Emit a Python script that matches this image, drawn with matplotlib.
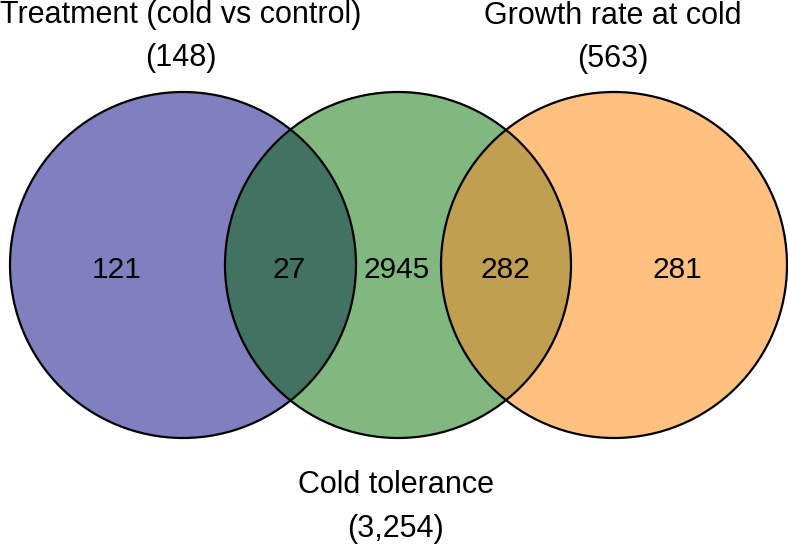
import matplotlib.pyplot as plt
from matplotlib.patches import Circle

# set names and sizes
set_names = ["Treatment (cold vs control)", "Cold tolerance", "Growth rate at cold"]
set_totals = ["(148)", "(3,254)", "(563)"]

# region counts, left to right
region_labels = ["121", "27", "2945", "282", "281"]

plt.rcParams['font.family'] = ['Liberation Sans', 'DejaVu Sans']

fig = plt.figure(figsize=(7.88, 5.45), dpi=100)
ax = fig.add_axes([0, 0, 1, 1])
ax.set_xlim(0, 788)
ax.set_ylim(545, 0)
ax.set_aspect('equal')
ax.axis('off')

# circle layout (pixel coords)
centers = [(183, 265), (398, 265), (614, 265)]
r = 173
fills = ['#8080C0', '#80B880', '#FFC080']

circles = []
for (cx, cy), c in zip(centers, fills):
    p = Circle((cx, cy), r, facecolor=c, edgecolor='none', zorder=1)
    ax.add_patch(p)
    circles.append(p)

# overlaps: middle circle clipped by left / right
overlap_cols = ['#417262', '#C0A050']
for side, col in zip([0, 2], overlap_cols):
    ov = Circle(centers[1], r, facecolor=col, edgecolor='none', zorder=2)
    ax.add_patch(ov)
    ov.set_clip_path(circles[side])

for (cx, cy) in centers:
    ax.add_patch(Circle((cx, cy), r, facecolor='none', edgecolor='black', lw=1.6, zorder=3))

# region counts
region_x = [117, 289, 397, 505, 677]
for x, t in zip(region_x, region_labels):
    ax.text(x, 278, t, ha='center', va='baseline', fontsize=21.5, zorder=4)

# set titles
title_pos = [(181, 23, 66), (396, 493, 537), (613, 24, 67)]
for (x, y1, y2), name, tot in zip(title_pos, set_names, set_totals):
    ax.text(x, y1, name, ha='center', va='baseline', fontsize=22)
    ax.text(x, y2, tot, ha='center', va='baseline', fontsize=22)

fig.savefig('out.png', dpi=100)
